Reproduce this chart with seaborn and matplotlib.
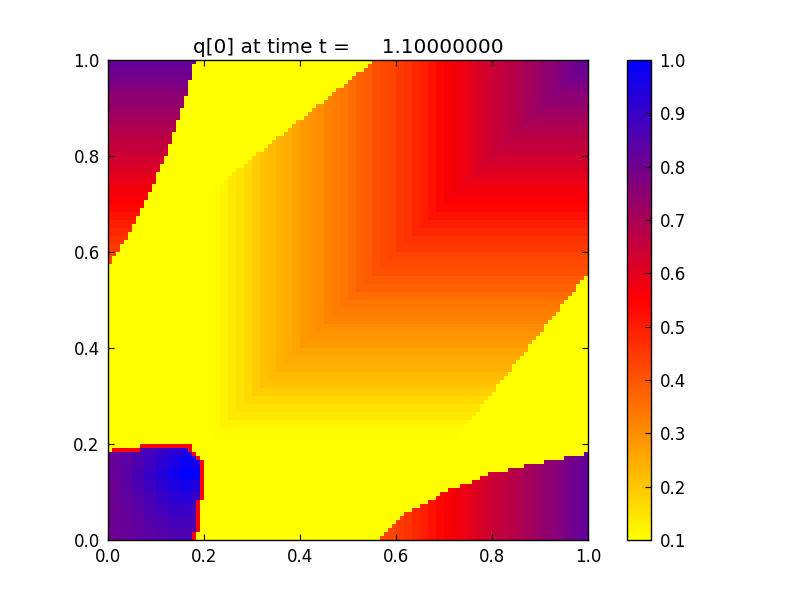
# plot.py
import matplotlib
matplotlib.use("Agg")
import matplotlib.pyplot as plt
import seaborn as sns
import numpy as np
from matplotlib.colors import LinearSegmentedColormap

TITLE = "q[0] at time t =     1.10000000"
axis_ticks = [0.0, 0.2, 0.4, 0.6, 0.8, 1.0]
axis_labels = ["0.0", "0.2", "0.4", "0.6", "0.8", "1.0"]
cbar_ticks = [0.1, 0.2, 0.3, 0.4, 0.5, 0.6, 0.7, 0.8, 0.9, 1.0]

ramp_60 = [10] * 13 + [11, 12, 14, 15, 17, 19, 21, 22, 24, 25, 26, 28, 29, 30, 32, 33, 34,
                       36, 38, 39, 41, 42, 43, 45, 46, 48, 50, 52, 54, 56, 57, 58, 60, 62,
                       63, 65, 66, 67, 69, 71, 72, 74, 75, 77, 79, 80, 82]
r = [v for v in ramp_60 for _ in range(2)]

# lower left blob, hundredths, bottom level first
ll0 = [81]*3 + [82]*3 + [83]*3 + [84]*3 + [85]*3 + [86]*3 + [86]*3 + [85]*3
ll1 = [81]*3 + [82]*3 + [83]*3 + [85]*3 + [86]*3 + [88]*3 + [88]*3 + [86]*3
ll2 = [81]*3 + [82]*3 + [84]*3 + [86]*3 + [88]*3 + [90]*3 + [90]*3 + [88]*3
ll3 = [81]*3 + [83]*3 + [85]*3 + [87]*3 + [90]*3 + [92]*3 + [93]*3 + [90]*3
ll4 = [81]*3 + [84]*3 + [86]*3 + [89]*3 + [92]*3 + [95]*3 + [96]*3 + [94]*3
ll5 = [82]*3 + [84]*3 + [87]*3 + [90]*3 + [93]*3 + [97]*3 + [100]*3 + [99]*3
ll6 = [82]*3 + [84]*3 + [86]*3 + [89]*3 + [92]*3 + [95]*3 + [98]*3 + [96]*3
ll7 = [82]*3 + [84]*3 + [86]*3 + [88]*3 + [90]*3 + [92]*3 + [94]*3 + [94]*3

# q values in hundredths, top row first (120 x 120 cells)
q_rows = [
    [82]*22 + [10]*44 + r[66:119] + [82]*1,
    [82]*21 + [10]*44 + r[65:118] + [82]*2,
    [80]*21 + [10]*43 + r[64:117] + [80]*3,
    [80]*21 + [10]*41 + r[62:116] + [80]*4,
    [79]*21 + [10]*40 + r[61:115] + [79]*5,
    [79]*20 + [10]*40 + r[60:114] + [79]*6,
    [77]*20 + [10]*39 + r[59:113] + [77]*7,
    [77]*20 + [10]*37 + r[57:112] + [77]*8,
    [75]*20 + [10]*36 + r[56:111] + [75]*9,
    [75]*19 + [10]*36 + r[55:110] + [75]*10,
    [74]*19 + [10]*35 + r[54:109] + [74]*11,
    [74]*19 + [10]*33 + r[52:108] + [74]*12,
    [72]*18 + [10]*33 + r[51:107] + [72]*13,
    [72]*18 + [10]*32 + r[50:106] + [72]*14,
    [71]*18 + [10]*31 + r[49:105] + [71]*15,
    [71]*17 + [10]*30 + r[47:104] + [71]*16,
    [69]*17 + [10]*29 + r[46:103] + [69]*17,
    [69]*17 + [10]*28 + r[45:102] + [69]*18,
    [67]*16 + [10]*28 + r[44:101] + [67]*19,
    [67]*16 + [10]*26 + r[42:100] + [67]*20,
    [66]*16 + [10]*25 + r[41:99] + [66]*21,
    [66]*15 + [10]*25 + r[40:98] + [66]*22,
    [65]*15 + [10]*24 + r[39:97] + [65]*23,
    [65]*15 + [10]*22 + r[37:96] + [65]*24,
    [63]*14 + [10]*22 + r[36:95] + [63]*25,
    [63]*14 + [10]*21 + r[35:94] + [63]*26,
    [62]*13 + [10]*21 + r[34:93] + [62]*27,
    [62]*13 + [10]*19 + r[32:92] + [62]*28,
    [60]*12 + [10]*19 + r[31:91] + [60]*29,
    [60]*12 + [10]*18 + r[30:90] + [60]*30,
    [58]*12 + [10]*17 + r[29:89] + [58]*31,
    [58]*11 + [10]*16 + r[27:88] + [58]*32,
    [57]*11 + [10]*15 + r[26:87] + [57]*33,
    [57]*10 + [10]*15 + r[25:86] + [57]*34,
    [56]*10 + [10]*14 + r[24:85] + [56]*35,
    [56]*9 + [10]*15 + r[24:84] + [56]*36,
    [54]*9 + [10]*15 + r[24:83] + [54]*37,
    [54]*8 + [10]*16 + r[24:82] + [54]*38,
    [52]*8 + [10]*16 + r[24:81] + [52]*39,
    [52]*7 + [10]*17 + r[24:80] + [52]*40,
    [50]*7 + [10]*17 + r[24:79] + [50]*41,
    [50]*6 + [10]*18 + r[24:78] + [50]*42,
    [48]*6 + [10]*18 + r[24:77] + [48]*43,
    [48]*5 + [10]*19 + r[24:76] + [48]*44,
    [46]*5 + [10]*19 + r[24:75] + [46]*45,
    [46]*4 + [10]*20 + r[24:74] + [46]*46,
    [45]*3 + [10]*21 + r[24:73] + [45]*47,
    [45]*3 + [10]*21 + r[24:72] + [45]*48,
    [43]*2 + [10]*22 + r[24:71] + [43]*49,
    [43]*1 + [10]*23 + r[24:70] + [43]*50,
    [42]*1 + [10]*23 + r[24:69] + [42]*51,
    [10]*24 + r[24:68] + [42]*52,
    [10]*24 + r[24:67] + [41]*53,
    [10]*24 + r[24:66] + [41]*54,
    [10]*24 + r[24:65] + [39]*54 + [10]*1,
    [10]*24 + r[24:64] + [39]*54 + [10]*2,
    [10]*24 + r[24:63] + [38]*54 + [10]*3,
    [10]*24 + r[24:62] + [38]*55 + [10]*3,
    [10]*24 + r[24:61] + [36]*55 + [10]*4,
    [10]*24 + r[24:60] + [36]*55 + [10]*5,
    [10]*24 + r[24:59] + [34]*55 + [10]*6,
    [10]*24 + r[24:58] + [34]*55 + [10]*7,
    [10]*24 + r[24:57] + [33]*56 + [10]*7,
    [10]*24 + r[24:56] + [33]*56 + [10]*8,
    [10]*24 + r[24:55] + [32]*56 + [10]*9,
    [10]*24 + r[24:54] + [32]*56 + [10]*10,
    [10]*24 + r[24:53] + [30]*56 + [10]*11,
    [10]*24 + r[24:52] + [30]*57 + [10]*11,
    [10]*24 + r[24:51] + [29]*57 + [10]*12,
    [10]*24 + r[24:50] + [29]*57 + [10]*13,
    [10]*24 + r[24:49] + [28]*57 + [10]*14,
    [10]*24 + r[24:48] + [28]*57 + [10]*15,
    [10]*24 + r[24:47] + [26]*58 + [10]*15,
    [10]*24 + r[24:46] + [26]*58 + [10]*16,
    [10]*24 + r[24:45] + [25]*58 + [10]*17,
    [10]*24 + r[24:44] + [25]*58 + [10]*18,
    [10]*24 + r[24:43] + [24]*58 + [10]*19,
    [10]*24 + r[24:42] + [24]*59 + [10]*19,
    [10]*24 + r[24:41] + [22]*59 + [10]*20,
    [10]*24 + r[24:40] + [22]*59 + [10]*21,
    [10]*24 + r[24:39] + [21]*59 + [10]*22,
    [10]*24 + r[24:38] + [21]*59 + [10]*23,
    [10]*24 + r[24:37] + [19]*60 + [10]*23,
    [10]*24 + r[24:36] + [19]*60 + [10]*24,
    [10]*24 + r[24:35] + [17]*60 + [10]*25,
    [10]*24 + r[24:34] + [17]*60 + [10]*26,
    [10]*24 + r[24:33] + [15]*60 + [10]*27,
    [10]*24 + r[24:32] + [15]*61 + [10]*27,
    [10]*24 + r[24:31] + [14]*61 + [10]*28,
    [10]*24 + r[24:30] + [14]*61 + [10]*29,
    [10]*24 + r[24:29] + [12]*61 + [10]*30,
    [10]*24 + r[24:28] + [12]*61 + [10]*31,
    [10]*24 + r[24:27] + [11]*62 + [10]*31,
    [10]*24 + r[24:26] + [11]*62 + [10]*32,
    [10]*120,
    [10]*120,
    [10]*8 + [55]*13 + [10]*99,
    [10]*1 + [55]*7 + ll7[8:20] + [55] + [10]*99,
    ll7[:21] + [55] + [10]*97 + r[119:120],
    ll6[:22] + [55] + [10]*91 + r[114:120],
    ll6[:23] + [55] + [10]*85 + r[109:120],
    ll6[:23] + [55] + [10]*80 + r[104:120],
    ll5[:23] + [55] + [10]*76 + r[100:120],
    ll5[:23] + [55] + [10]*71 + r[95:120],
    ll5[:23] + [55] + [10]*69 + r[93:120],
    ll4[:23] + [55] + [10]*67 + r[91:120],
    ll4[:23] + [55] + [10]*64 + r[88:120],
    ll4[:23] + [55] + [10]*61 + r[85:120],
    ll3[:23] + [55] + [10]*59 + r[83:120],
    ll3[:23] + [55] + [10]*58 + r[82:120],
    ll3[:22] + [55] + [10]*57 + r[80:120],
    ll2[:22] + [55] + [10]*55 + r[78:120],
    ll2[:22] + [55] + [10]*53 + r[76:120],
    ll2[:22] + [55] + [10]*51 + r[74:120],
    ll1[:22] + [55] + [10]*50 + r[73:120],
    ll1[:22] + [55] + [10]*49 + r[72:120],
    ll1[:22] + [55] + [10]*48 + r[71:120],
    ll0[:22] + [55] + [10]*47 + r[70:120],
    ll0[:21] + [55] + [10]*47 + r[69:120],
    ll0[:21] + [55] + [10]*46 + r[68:120],
]

q = np.array(q_rows) / 100.0
n = q.shape[0]

# yellow -> red -> blue, as in clawpack's yellow_red_blue
cmap = LinearSegmentedColormap.from_list("yellow_red_blue", ["#ffff00", "#ff0000", "#0000ff"])

fig = plt.figure(figsize=(8, 6), dpi=100)
ax = fig.add_axes([0.135, 0.1, 0.6, 0.8])
cax = fig.add_axes([0.784, 0.1, 0.03, 0.8])

sns.heatmap(q, ax=ax, cbar_ax=cax, cmap=cmap, vmin=0.1, vmax=1.0,
            xticklabels=False, yticklabels=False,
            cbar_kws={"ticks": cbar_ticks})

ax.set_xticks([t * n for t in axis_ticks])
ax.set_xticklabels(axis_labels, fontsize=12)
ax.set_yticks([n - t * n for t in axis_ticks])
ax.set_yticklabels(axis_labels, fontsize=12, rotation=0)
ax.tick_params(direction="in", length=4, width=0.8, top=True, right=True, pad=6)
for side in ax.spines:
    ax.spines[side].set_visible(True)
    ax.spines[side].set_linewidth(1.0)
ax.set_title(TITLE, fontsize=14.4, pad=5)

cbar = ax.collections[0].colorbar
cbar.ax.tick_params(direction="in", length=4, width=0.8, labelsize=12, pad=6)
cbar.ax.set_yticklabels(["0.1", "0.2", "0.3", "0.4", "0.5", "0.6", "0.7", "0.8", "0.9", "1.0"])
cbar.outline.set_visible(True)
cbar.outline.set_edgecolor("black")
cbar.outline.set_linewidth(1.0)

fig.savefig("out.png", dpi=100)
